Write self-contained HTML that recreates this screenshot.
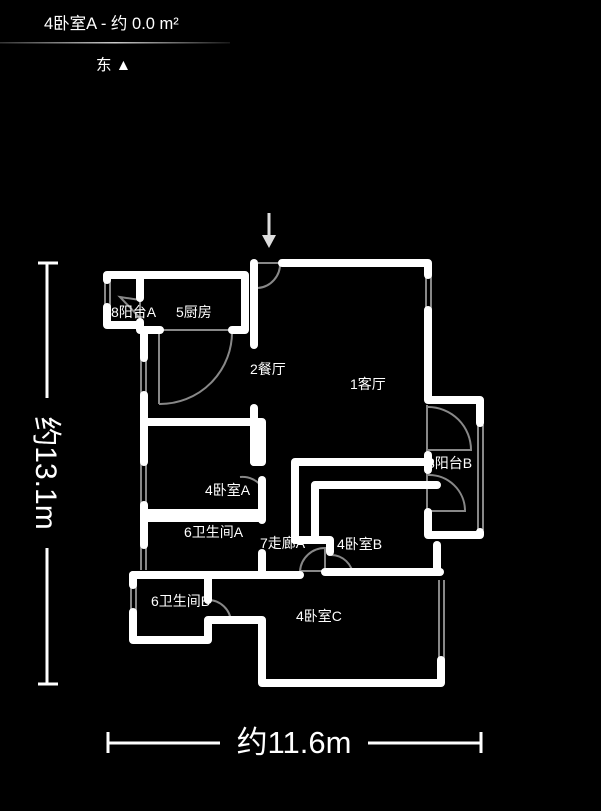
<!DOCTYPE html>
<html><head><meta charset="utf-8"><style>
html,body{margin:0;padding:0;background:#000;width:601px;height:811px;overflow:hidden}
svg{display:block}
text{font-family:"Liberation Sans","Noto Sans CJK SC",sans-serif;fill:#fff}
</style></head><body>
<svg width="601" height="811" viewBox="0 0 601 811" xmlns="http://www.w3.org/2000/svg">
<defs><linearGradient id="g" x1="0" x2="1"><stop offset="0" stop-color="#fff" stop-opacity="0.2"/><stop offset="0.5" stop-color="#fff" stop-opacity="0.8"/><stop offset="1" stop-color="#fff" stop-opacity="0.1"/></linearGradient></defs>
<text x="44" y="29" font-size="16.5">4卧室A - 约 0.0 m²</text>
<rect x="0" y="42" width="230" height="1.5" fill="url(#g)"/>
<text x="96" y="70" font-size="15.5">东 ▲</text>

<!-- entrance arrow -->
<line x1="269" y1="213" x2="269" y2="240" stroke="#ddd" stroke-width="3"/>
<polygon points="262,235 276,235 269,248" fill="#ddd"/>

<!-- thin lines: windows/doors -->
<g stroke="#888" stroke-width="2" fill="none">
<path d="M258 263 H280 M258 288 A24 24 0 0 0 280 263"/>
<line x1="105" y1="280" x2="105" y2="308"/><line x1="110" y1="280" x2="110" y2="308"/>
<path d="M120 297 L140 300 L140 318 Z"/>
<path d="M160 330 H232 M159 404 V330 M159 404 A72 72 0 0 0 232 330"/>
<line x1="141" y1="355" x2="141" y2="395"/><line x1="146" y1="355" x2="146" y2="395"/>
<line x1="141" y1="450" x2="141" y2="505"/><line x1="146" y1="450" x2="146" y2="505"/>
<line x1="141" y1="545" x2="141" y2="570"/><line x1="146" y1="545" x2="146" y2="570"/>
<path d="M262 487 A24 24 0 0 0 240 477"/>
<line x1="426" y1="275" x2="426" y2="310"/><line x1="431" y1="275" x2="431" y2="310"/>
<line x1="427" y1="405" x2="427" y2="515"/>
<path d="M428 407 A43 43 0 0 1 471 450 H428"/>
<path d="M428 475 A36 36 0 0 1 465 511 H430"/>
<line x1="478" y1="425" x2="478" y2="530"/><line x1="483" y1="425" x2="483" y2="530"/>
<path d="M300 571 A25 25 0 0 1 325 548 V571 Z"/>
<path d="M331 555 A22 22 0 0 1 353 576"/>
<line x1="131" y1="585" x2="131" y2="612"/><line x1="136" y1="585" x2="136" y2="612"/>
<path d="M208 600 A23 23 0 0 1 231 622 H208"/>
<line x1="439" y1="580" x2="439" y2="660"/><line x1="444" y1="580" x2="444" y2="660"/>
</g>

<!-- walls -->
<g stroke="#fff" stroke-width="8" fill="none" stroke-linecap="round" stroke-linejoin="round">
<path d="M282 263 H428 V275"/>
<path d="M254 263 V345"/>
<path d="M107 280 V275 H245 V330 H232"/>
<path d="M107 307 V325 H140"/>
<path d="M140 275 V298"/>
<path d="M140 322 V330 H160"/>
<path d="M144 330 V358"/>
<path d="M144 395 V462"/>
<path d="M144 422 H262 V462 H254"/>
<path d="M254 408 V462"/>
<path d="M262 480 V520"/>
<path d="M144 505 V545"/>
<path d="M133 575 H300"/>
<path d="M262 553 V575"/>
<path d="M325 572 H440"/>
<path d="M133 575 V585"/>
<path d="M133 612 V640 H208 V620 H262 V683 H441 V660"/>
<path d="M208 575 V600"/>
<path d="M437 545 V572"/>
<path d="M295 540 V462 H430"/>
<path d="M315 540 V485 H437"/>
<path d="M295 540 H330 V552"/>
<path d="M428 310 V400 H480 V423"/>
<path d="M480 532 V535 H428 V512"/>
<path d="M428 455 V470"/>
</g>
<rect x="140" y="509" width="126" height="13" fill="#fff" rx="3"/>

<g font-size="14">
<text x="111" y="317">8阳台A</text>
<text x="176" y="317">5厨房</text>
<text x="250" y="374">2餐厅</text>
<text x="350" y="389">1客厅</text>
<text x="205" y="495">4卧室A</text>
<text x="184" y="537">6卫生间A</text>
<text x="260" y="548">7走廊A</text>
<text x="337" y="549">4卧室B</text>
<text x="427" y="468">8阳台B</text>
<text x="151" y="606">6卫生间B</text>
<text x="296" y="621">4卧室C</text>
</g>

<!-- dimensions -->
<g stroke="#fff" stroke-width="3">
<line x1="47" y1="263" x2="47" y2="398"/><line x1="47" y1="548" x2="47" y2="684"/>
<line x1="38" y1="263" x2="58" y2="263"/><line x1="38" y1="684" x2="58" y2="684"/>
<line x1="108" y1="743" x2="220" y2="743"/><line x1="368" y1="743" x2="481" y2="743"/>
<line x1="108" y1="732" x2="108" y2="753"/><line x1="481" y1="732" x2="481" y2="753"/>
</g>
<text x="294" y="753" font-size="31" text-anchor="middle">约11.6m</text>
<text transform="translate(36,473) rotate(90)" font-size="30" text-anchor="middle">约13.1m</text>
</svg>
</body></html>
